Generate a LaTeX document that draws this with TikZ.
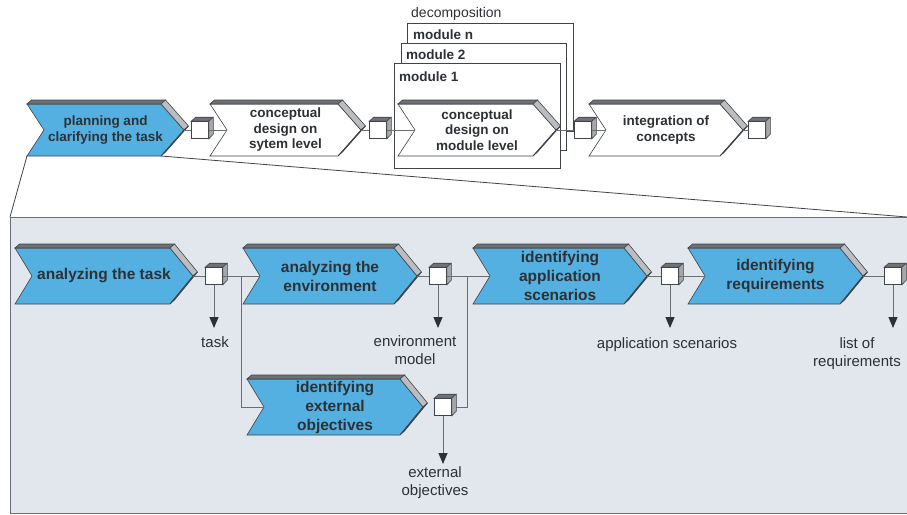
\documentclass[tikz,border=0pt]{standalone}
\usepackage{fontspec}
\setmainfont{Liberation Sans}
\usetikzlibrary{arrows.meta,calc}
\definecolor{chevblue}{RGB}{84,176,224}
\definecolor{bevdark}{RGB}{110,112,116}
\definecolor{bevlight}{RGB}{188,189,193}
\definecolor{bevedge}{RGB}{70,73,78}
\definecolor{outl}{RGB}{64,67,72}
\definecolor{linegray}{RGB}{106,109,113}
\definecolor{panelfill}{RGB}{226,230,237}
\definecolor{txt}{RGB}{45,49,54}
\definecolor{cubetop}{RGB}{112,114,118}
\definecolor{cubeside}{RGB}{165,167,171}

\newcommand{\chev}[8]{%
  \pgfmathsetmacro{\chM}{(#4+#5)/2}%
  \pgfmathsetmacro{\chN}{#2+17}%
  \pgfmathsetmacro{\chP}{#3+23}%
  \pgfmathsetmacro{\chC}{(#2+#3+23)/2}%
  \filldraw[chevline,fill=#6] (#2,#4) -- (#3,#4) -- (\chP,\chM) -- (#3,#5) -- (#2,#5) -- (\chN,\chM) -- cycle;
  \filldraw[chevline,fill=bevdark] (#2,#4) -- ++(4.5,-4) -- ++({#3-#2},0) -- (#3,#4) -- cycle;
  \filldraw[chevline,fill=bevlight] (#3,#4) -- ++(4.5,-4) -- ++(23,{\chM-#4}) -- (\chP,\chM) -- cycle;
  \filldraw[chevline,fill=bevedge] (\chP,\chM) -- ++(4.5,-4) -- ++(-23,{#5-\chM}) -- (#3,#5) -- cycle;
  \coordinate (#1-in) at (\chN,\chM);
  \coordinate (#1-out) at (\chP,\chM);
  \coordinate (#1-sw) at (#2,#5);
  \coordinate (#1-se) at (#3,#5);
  \node[chevtext,#7] (#1) at (\chC,\chM) {#8};
}
\newcommand{\cubeat}[3]{%
  \node[cubebox] (#1) at (#2,#3) {};
  \filldraw[chevline,fill=cubetop] (#1.north west) -- ++(4.5,-4) -- ++(17,0) -- (#1.north east) -- cycle;
  \filldraw[chevline,fill=cubeside] (#1.north east) -- ++(4.5,-4) -- ++(0,17) -- (#1.south east) -- cycle;
}

\begin{document}
\begin{tikzpicture}[x=1pt,y=-1pt,
  chevline/.style={draw=outl,line width=0.6pt,line join=miter},
  chevtext/.style={text=txt,align=center,inner sep=0pt},
  topfont/.style={font=\fontsize{13.5}{15.5}\selectfont\bfseries},
  lowfont/.style={font=\fontsize{15.5}{19}\selectfont\bfseries},
  cubebox/.style={draw=outl,fill=white,line width=0.6pt,minimum size=17pt,inner sep=0pt},
  conn/.style={draw=linegray,line width=1pt},
  arr/.style={conn,-{Triangle[length=11pt,width=9pt,fill=txt,color=txt]}},
  lab/.style={text=txt,align=center,inner sep=0pt,anchor=north,font=\fontsize{15}{18.5}\selectfont},
  modbox/.style={draw=outl,fill=white,line width=0.8pt},
  modlab/.style={text=txt,anchor=west,inner sep=0pt,font=\fontsize{13.5}{15.5}\selectfont\bfseries},
  panel/.style={draw=linegray,fill=panelfill,line width=1pt}]
\useasboundingbox (0,0) rectangle (907,514);

% ---------- lower panel ----------
\filldraw[panel] (10,217) rectangle (912,513);
\coordinate (pnw) at (10,217);
\coordinate (pne) at (907,217);

% ---------- top row ----------
\node[text=txt,anchor=west,inner sep=0pt,font=\fontsize{14}{16}\selectfont] (dec) at (411,14) {decomposition};
\filldraw[modbox] (407,23) rectangle (573,131);
\node[modlab] (mn) at (413,35) {module n};
\filldraw[modbox] (401,43) rectangle (566,150);
\node[modlab] (m2) at (406,55) {module 2};
\filldraw[modbox] (394,63) rectangle (560,168);
\node[modlab] (m1) at (399,77) {module 1};

\chev{t1}{27}{161}{104}{156}{chevblue}{topfont}{planning and\\clarifying the task}
\chev{t2}{210}{338}{104}{156}{white}{topfont}{conceptual\\design on\\sytem level}
\chev{t3}{398}{533}{104}{156}{white}{topfont}{conceptual\\design on\\module level}
\chev{t4}{589}{720}{104}{156}{white}{topfont}{integration of\\concepts}

\draw[conn] (t1-out) -- (200,130) coordinate (k1w);
\cubeat{k1}{200}{130}
\draw[conn] (k1.east) -- (t2-in);
\draw[conn] (t2-out) -- (378,130);
\cubeat{k2}{378}{130}
\draw[conn] (k2.east) -- (t3-in);
\draw[conn] (t3-out) -- (583,130);
\cubeat{k3}{583}{130}
\draw[conn] (k3.east) -- (t4-in);
\draw[conn] (t4-out) -- (757,130);
\cubeat{k4}{757}{130}

% zoom lines
\draw[conn,draw=outl,line width=0.8pt] (t1-sw) -- (pnw);
\draw[conn,draw=outl,line width=0.8pt] (t1-se) -- (pne);

% ---------- lower row ----------
\chev{a}{15}{170}{248}{304}{chevblue}{lowfont}{analyzing the task}
\chev{b}{243}{394}{248}{304}{chevblue}{lowfont}{analyzing the\\environment}
\chev{e}{247}{400}{379}{435}{chevblue}{lowfont}{identifying\\external\\objectives}
\chev{c}{473}{624}{248}{304}{chevblue}{lowfont}{identifying\\application\\scenarios}
\chev{d}{688}{840}{248}{304}{chevblue}{lowfont}{identifying\\requirements}

\coordinate (j1) at (241,276);
\coordinate (j2) at (467,276);
\draw[conn] (a-out) -- (214,276);
\draw[conn] (j1) |- (e-in);
\draw[conn] (443,407) -| (j2);
\draw[conn] (b-out) -- (438,276);
\draw[conn] (c-out) -- (670,276);
\draw[conn] (d-out) -- (893,276);
\cubeat{ca}{214}{276}
\cubeat{cb}{438}{276}
\cubeat{ce}{443}{407}
\cubeat{cc}{670}{276}
\cubeat{cd}{893}{276}
\draw[conn] (ca.east) -- (b-in);
\draw[conn] (cb.east) -- (c-in);
\draw[conn] (cc.east) -- (d-in);

\node[lab] (ltask) at (215,336) {task};
\node[lab] (lenv) at (415,335) {environment\\model};
\node[lab] (lext) at (435,466) {external\\objectives};
\node[lab] (lapp) at (667,337) {application scenarios};
\node[lab] (lreq) at (857,337) {list of\\requirements};

\draw[arr] (ca.south) -- ($(ca.south |- ltask.north)+(0,-8)$);
\draw[arr] (cb.south) -- ($(cb.south |- lenv.north)+(0,-7)$);
\draw[arr] (ce.south) -- ($(ce.south |- lext.north)+(0,-2)$);
\draw[arr] (cc.south) -- ($(cc.south |- lapp.north)+(0,-9)$);
\draw[arr] (cd.south) -- ($(cd.south |- lreq.north)+(0,-9)$);
\end{tikzpicture}
\end{document}
